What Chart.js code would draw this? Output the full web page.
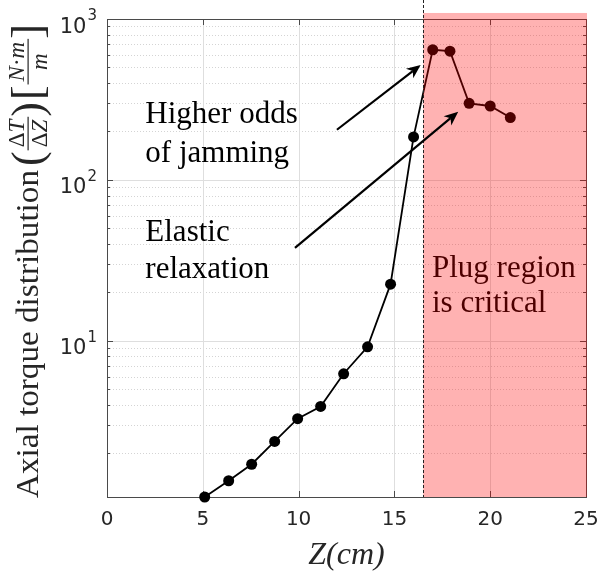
<!DOCTYPE html>
<html>
<head>
<meta charset="utf-8">
<script src="https://cdn.jsdelivr.net/npm/chart.js@4"></script>
<style>
html,body{margin:0;padding:0;background:#fff;}
#wrap{width:602px;height:581px;}
</style>
</head>
<body>
<div id="wrap"><canvas id="c" width="602" height="581"></canvas></div>
<script>
// ---- data ----
const zValues      = [5.1, 6.35, 7.55, 8.75, 9.95, 11.15, 12.35, 13.6, 14.8, 16.0, 17.0, 17.9, 18.9, 20.0, 21.05];
const torqueValues = [1.07, 1.35, 1.71, 2.37, 3.28, 3.91, 6.24, 9.18, 22.5, 185, 644, 631, 299, 288, 244];
const xTickValues  = [0, 5, 10, 15, 20, 25];
const yTickValues  = [10, 100, 1000];
const yTickBase    = ['10', '10', '10'];
const yTickExp     = ['1', '2', '3'];
const yMinorTicks  = [2,3,4,5,6,7,8,9,20,30,40,50,60,70,80,90,200,300,400,500,600,700,800,900];
const yRange       = [1.07, 1000];
const xRange       = [0, 25];
const plugRegionX  = [16.5, 25];
const plugRegionTop = 1090;
const dividerX     = 16.5;
const xTitle       = 'Z(cm)';
const yTitleMain   = 'Axial torque distribution';
const noteLines    = [['Higher odds', 'of jamming'], ['Elastic', 'relaxation'], ['Plug region', 'is critical']];
const noteAnchorX  = [2.0, 2.0, 16.96];
const noteAnchorY  = [227, 42, 25.1];
const noteLineGap  = [39, 37.6, 35];
const arrowFrom    = [[12.0, 205], [9.81, 37.8]];
const arrowTo      = [[16.37, 518], [18.33, 265]];

const AX = '#262626';

function line(ctx, x1, y1, x2, y2) { ctx.beginPath(); ctx.moveTo(x1, y1); ctx.lineTo(x2, y2); ctx.stroke(); }

function drawNote(ctx, xs, ys, i) {
  const px = xs.getPixelForValue(noteAnchorX[i]);
  const py = ys.getPixelForValue(noteAnchorY[i]);
  ctx.font = '31px "Liberation Serif"';
  ctx.fillStyle = '#000';
  ctx.textAlign = 'left';
  ctx.textBaseline = 'alphabetic';
  noteLines[i].forEach((t, k) => ctx.fillText(t, px, py + k * noteLineGap[i]));
}

function drawArrow(ctx, xs, ys, i) {
  const x1 = xs.getPixelForValue(arrowFrom[i][0]), y1 = ys.getPixelForValue(arrowFrom[i][1]);
  const x2 = xs.getPixelForValue(arrowTo[i][0]),   y2 = ys.getPixelForValue(arrowTo[i][1]);
  const ang = Math.atan2(y2 - y1, x2 - x1);
  const L = 14, W = 6, N = 10;
  const cos = Math.cos(ang), sin = Math.sin(ang);
  ctx.strokeStyle = '#000'; ctx.fillStyle = '#000'; ctx.lineWidth = 2.2; ctx.setLineDash([]);
  line(ctx, x1, y1, x2 - N * cos, y2 - N * sin);
  ctx.beginPath();
  ctx.moveTo(x2, y2);
  ctx.lineTo(x2 - L * cos - W * sin, y2 - L * sin + W * cos);
  ctx.lineTo(x2 - N * cos, y2 - N * sin);
  ctx.lineTo(x2 - L * cos + W * sin, y2 - L * sin - W * cos);
  ctx.closePath();
  ctx.fill();
}

function runs(ctx, parts, u, v, size) {
  for (const p of parts) {
    ctx.font = (p.it ? 'italic ' : '') + size + 'px "Liberation Serif"';
    ctx.fillText(p.t, u, v);
    u += ctx.measureText(p.t).width;
  }
  return u;
}
function runsWidth(ctx, parts, size) {
  let w = 0;
  for (const p of parts) { ctx.font = (p.it ? 'italic ' : '') + size + 'px "Liberation Serif"'; w += ctx.measureText(p.t).width; }
  return w;
}
function fraction(ctx, u, num, den, size) {
  const wn = runsWidth(ctx, num, size), wd = runsWidth(ctx, den, size);
  const w = Math.max(wn, wd) + 6;
  runs(ctx, num, u + (w - wn) / 2, -14, size);
  runs(ctx, den, u + (w - wd) / 2, 9, size);
  ctx.fillRect(u, -10.5, w, 1.2);
  return u + w;
}

function drawYTitle(ctx) {
  ctx.save();
  ctx.translate(38, 498);
  ctx.rotate(-Math.PI / 2);
  ctx.fillStyle = AX;
  ctx.textAlign = 'left';
  ctx.textBaseline = 'alphabetic';
  ctx.font = '32px "Liberation Serif"';
  const wMain = ctx.measureText(yTitleMain).width;
  ctx.save(); ctx.scale(328 / wMain, 1); ctx.fillText(yTitleMain, 0, 0); ctx.restore();
  let u = 332;
  ctx.font = '44px "Liberation Serif"';
  ctx.fillText('(', u, 4); u += ctx.measureText('(').width + 1;
  u = fraction(ctx, u, [{t:'\u0394'}, {t:'T', it:true}], [{t:'\u0394'}, {t:'Z', it:true}], 23);
  ctx.font = '44px "Liberation Serif"';
  ctx.fillText(')', u, 4); u += ctx.measureText(')').width + 2;
  ctx.fillText('[', u, 4); u += ctx.measureText('[').width + 1;
  u = fraction(ctx, u, [{t:'N', it:true}, {t:'\u00b7'}, {t:'m', it:true}], [{t:'m', it:true}], 23);
  ctx.font = '44px "Liberation Serif"';
  ctx.fillText(']', u, 4);
  ctx.restore();
}

const matlabPlugin = {
  id: 'matlab',
  beforeDatasetsDraw(chart) {
    const { ctx, chartArea: a, scales: { x, y } } = chart;
    ctx.save();
    ctx.lineWidth = 1;
    // minor grid (dotted)
    ctx.strokeStyle = '#d4d4d4';
    ctx.setLineDash([1, 2]);
    for (const v of yMinorTicks) {
      if (v <= yRange[0]) continue;
      const py = Math.round(y.getPixelForValue(v)) + 0.5;
      line(ctx, a.left, py, a.right, py);
    }
    ctx.setLineDash([]);
    // major grid
    ctx.strokeStyle = '#dedede';
    for (const v of yTickValues) {
      const py = Math.round(y.getPixelForValue(v)) + 0.5;
      line(ctx, a.left, py, a.right, py);
    }
    for (const v of xTickValues) {
      const px = Math.round(x.getPixelForValue(v)) + 0.5;
      line(ctx, px, a.top, px, a.bottom);
    }
    // box
    ctx.strokeStyle = '#4a4a4a';
    ctx.strokeRect(Math.round(a.left) + 0.5, Math.round(a.top) + 0.5, Math.round(a.right - a.left), Math.round(a.bottom - a.top));
    // tick marks (inside)
    for (const v of yTickValues) {
      const py = Math.round(y.getPixelForValue(v)) + 0.5;
      line(ctx, a.left, py, a.left + 6, py); line(ctx, a.right - 6, py, a.right, py);
    }
    for (const v of yMinorTicks) {
      if (v <= yRange[0]) continue;
      const py = Math.round(y.getPixelForValue(v)) + 0.5;
      line(ctx, a.left, py, a.left + 3, py); line(ctx, a.right - 3, py, a.right, py);
    }
    for (const v of xTickValues) {
      const px = Math.round(x.getPixelForValue(v)) + 0.5;
      line(ctx, px, a.bottom, px, a.bottom - 6); line(ctx, px, a.top, px, a.top + 6);
    }
    ctx.restore();
  },
  afterDatasetsDraw(chart) {
    const { ctx, chartArea: a, scales: { x, y } } = chart;
    ctx.save();
    // text under the patch
    drawNote(ctx, x, y, 2);
    // plug region patch
    const px1 = x.getPixelForValue(plugRegionX[0]), px2 = x.getPixelForValue(plugRegionX[1]);
    const pTop = y.getPixelForValue(plugRegionTop);
    ctx.fillStyle = 'rgba(255,0,0,0.3)';
    ctx.fillRect(px1, pTop, px2 - px1 + 1, a.bottom - pTop);
    // dashed divider
    const dx = Math.round(x.getPixelForValue(dividerX)) + 0.5;
    ctx.strokeStyle = '#222'; ctx.lineWidth = 1; ctx.setLineDash([3, 2]);
    line(ctx, dx, 0, dx, a.bottom);
    ctx.setLineDash([]);
    // other notes
    drawNote(ctx, x, y, 0);
    drawNote(ctx, x, y, 1);
    // arrows
    drawArrow(ctx, x, y, 0);
    drawArrow(ctx, x, y, 1);
    // y tick labels with superscripts
    ctx.fillStyle = AX;
    ctx.textBaseline = 'alphabetic';
    ctx.textAlign = 'left';
    yTickValues.forEach((v, i) => {
      const py = y.getPixelForValue(v);
      ctx.font = '21px "DejaVu Sans"';
      const wb = ctx.measureText(yTickBase[i]).width;
      ctx.font = '15px "DejaVu Sans"';
      const we = ctx.measureText(yTickExp[i]).width;
      const x0 = 97 - wb - we - 1;
      ctx.font = '21px "DejaVu Sans"';
      ctx.fillText(yTickBase[i], x0, py + 13.5);
      ctx.font = '15px "DejaVu Sans"';
      ctx.fillText(yTickExp[i], x0 + wb + 1, py + 1);
    });
    drawYTitle(ctx);
    ctx.restore();
  }
};

new Chart(document.getElementById('c'), {
  type: 'line',
  data: {
    datasets: [{
      data: zValues.map((z, i) => ({ x: z, y: torqueValues[i] })),
      borderColor: '#000',
      backgroundColor: '#000',
      borderWidth: 1.8,
      pointRadius: 5.5,
      pointHoverRadius: 5.5,
      pointBackgroundColor: '#000',
      pointBorderWidth: 0,
      tension: 0,
      clip: false
    }]
  },
  options: {
    responsive: false,
    animation: false,
    devicePixelRatio: 1,
    events: [],
    layout: { padding: { top: 19, right: 16, left: 0, bottom: 0 } },
    plugins: { legend: { display: false }, tooltip: { enabled: false } },
    scales: {
      x: {
        type: 'linear', min: xRange[0], max: xRange[1],
        afterBuildTicks: s => { s.ticks = xTickValues.map(v => ({ value: v })); },
        grid: { display: false, drawTicks: false },
        border: { display: false },
        ticks: { font: { family: 'DejaVu Sans', size: 20 }, color: AX, padding: 11, maxRotation: 0, autoSkip: false },
        title: { display: true, text: xTitle, color: AX, font: { family: 'Liberation Serif', size: 32, style: 'italic' }, padding: { top: 0, bottom: 6 } },
        afterFit: s => { s.height = 84; s.paddingLeft = 0; s.paddingRight = 0; }
      },
      y: {
        type: 'logarithmic', min: yRange[0], max: yRange[1],
        grid: { display: false, drawTicks: false },
        border: { display: false },
        ticks: { display: false },
        afterFit: s => { s.width = 107; s.paddingTop = 0; s.paddingBottom = 0; }
      }
    }
  },
  plugins: [matlabPlugin]
});
</script>
</body>
</html>
